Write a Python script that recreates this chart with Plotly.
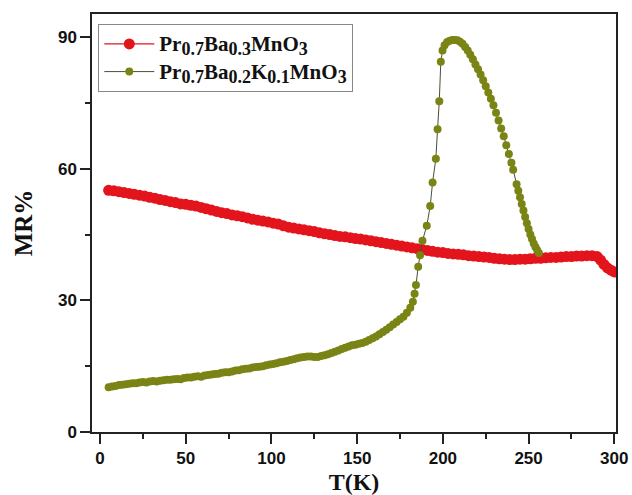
import plotly.graph_objects as go

# Pr0.7Ba0.3MnO3
t_red = [5, 8, 11, 14, 17, 20, 23, 26, 29, 32, 35, 38, 41, 44, 47, 50, 53, 56, 59, 62,
         65, 68, 71, 74, 77, 80, 83, 86, 89, 92, 95, 98, 101, 104, 107, 110, 113, 116, 119, 122,
         125, 128, 131, 134, 137, 140, 143, 146, 149, 152, 155, 158, 161, 164, 167, 170, 173, 176, 179, 182,
         185, 188, 191, 194, 197, 200, 203, 206, 209, 212, 215, 218, 221, 224, 227, 230, 233, 236, 239, 242,
         245, 248, 251, 254, 257, 260, 263, 266, 269, 272, 275, 278, 281, 284, 287, 290, 292, 294, 296, 298, 300]
mr_red = [55.1, 55.0, 54.8, 54.6, 54.4, 54.2, 54.0, 53.8, 53.5, 53.3, 53.0, 52.8, 52.5, 52.3, 52.0, 51.9, 51.7, 51.5, 51.2, 50.9,
          50.6, 50.3, 50.0, 49.8, 49.5, 49.3, 49.1, 48.8, 48.5, 48.3, 48.1, 47.9, 47.6, 47.4, 47.0, 46.7, 46.5, 46.3, 46.1, 45.9,
          45.7, 45.4, 45.2, 45.0, 44.8, 44.6, 44.5, 44.3, 44.1, 44.0, 43.8, 43.6, 43.4, 43.2, 43.0, 42.8, 42.6, 42.4, 42.2, 42.0,
          41.8, 41.6, 41.4, 41.2, 41.0, 40.9, 40.7, 40.6, 40.5, 40.4, 40.2, 40.1, 40.0, 39.9, 39.8, 39.6, 39.5, 39.4, 39.3, 39.3,
          39.4, 39.4, 39.5, 39.6, 39.6, 39.7, 39.8, 39.8, 39.9, 40.0, 40.0, 40.1, 40.1, 40.2, 40.2, 40.0, 39.2, 38.2, 37.4, 36.9, 36.5]

# Pr0.7Ba0.2K0.1MnO3
t_grn = [5, 7, 9, 11, 13, 15, 17, 19, 21, 23, 25, 27, 29, 31, 33, 35, 37, 39, 41, 43,
         45, 47, 49, 51, 53, 55, 57, 59, 61, 63, 65, 67, 69, 71, 73, 75, 77, 79, 81, 83,
         85, 87, 89, 91, 93, 95, 97, 99, 101, 103, 105, 107, 109, 111, 113, 115, 117, 119, 121, 123,
         125, 127, 129, 131, 133, 135, 137, 139, 141, 143, 145, 147, 149, 151, 153, 155, 157, 159, 161, 163,
         165, 167, 169, 171, 173, 175, 177, 179, 181, 182.5, 183.5, 184.3, 185.6, 186.7, 188.1, 190.6, 192.6, 194.0, 195.9, 196.9,
         197.9, 198.8, 199.8, 201, 202.5, 204, 205.5, 207, 208.5, 210, 211.5, 213, 214.5, 216, 217.5, 219, 220.5, 222, 223.5, 225,
         226.5, 228, 229.5, 231, 232.5, 234, 235.5, 237, 238.5, 240, 241, 243, 244, 245, 246, 247, 248, 249, 250, 251,
         252, 253, 254, 255, 256]
mr_grn = [10.2, 10.4, 10.5, 10.7, 10.8, 10.9, 11.0, 11.1, 11.1, 11.3, 11.4, 11.3, 11.5, 11.6, 11.5, 11.7, 11.8, 11.9, 11.9, 12.0,
          12.1, 12.0, 12.3, 12.4, 12.4, 12.6, 12.7, 12.6, 12.9, 13.0, 13.1, 13.2, 13.3, 13.5, 13.6, 13.6, 13.8, 14.0, 14.1, 14.3,
          14.4, 14.5, 14.7, 14.8, 14.9, 15.0, 15.2, 15.4, 15.5, 15.7, 15.9, 16.0, 16.2, 16.4, 16.6, 16.8, 17.0, 17.1, 17.2, 17.2,
          17.1, 17.1, 17.3, 17.5, 17.7, 18.0, 18.3, 18.6, 18.9, 19.2, 19.5, 19.8, 19.9, 20.1, 20.3, 20.6, 21.0, 21.4, 21.8, 22.3,
          22.8, 23.3, 23.9, 24.5, 25.1, 25.7, 26.3, 27.2, 28.3, 29.7, 31.5, 33.5, 37.7, 40.3, 43.6, 47.0, 51.5, 56.9, 62.3, 69.0,
          75.4, 84.4, 87.0, 88.2, 88.9, 89.2, 89.4, 89.4, 89.3, 89.0, 88.5, 87.8, 87.0, 86.0, 85.0, 83.8, 82.7, 81.5, 80.2, 78.8,
          77.4, 76.0, 74.5, 72.8, 71.0, 69.2, 67.4, 65.4, 63.4, 61.4, 59.8, 56.5, 55.0, 53.5, 52.0, 50.5, 49.0, 47.6, 46.3, 45.0,
          44.0, 43.0, 42.2, 41.5, 40.8]

x_ticks = [0, 50, 100, 150, 200, 250, 300]
y_ticks = [0, 30, 60, 90]

RED = "#E3141B"
OLIVE = "#7A8414"


def chem(parts):
    # parts: list of (text, is_subscript)
    out = ""
    for txt, sub in parts:
        if sub:
            out += '<span style="font-size:18px;baseline-shift:-4px">' + txt + '</span>'
        else:
            out += '<span style="font-size:21px">' + txt + '</span>'
    return out


name_red = chem([("Pr", False), ("0.7", True), ("Ba", False), ("0.3", True), ("MnO", False), ("3", True)])
name_grn = chem([("Pr", False), ("0.7", True), ("Ba", False), ("0.2", True), ("K", False), ("0.1", True),
                 ("MnO", False), ("3", True)])

fig = go.Figure()
fig.add_trace(go.Scatter(
    x=t_red, y=mr_red, mode="lines+markers",
    name=name_red,
    line=dict(color=RED, width=1.2),
    marker=dict(color=RED, size=11, line=dict(width=0)),
))
fig.add_trace(go.Scatter(
    x=t_grn, y=mr_grn, mode="lines+markers",
    name=name_grn,
    line=dict(color="#4A4F3A", width=1),
    marker=dict(color=OLIVE, size=8, line=dict(width=0)),
))

axis_common = dict(
    showline=True, linecolor="#222222", linewidth=1.5, mirror=True,
    ticks="outside", ticklen=10, tickwidth=1.5, tickcolor="#222222",
    showgrid=False, zeroline=False, automargin=False,
    tickfont=dict(family="Liberation Sans, Arial", size=17, color="#111111", weight="bold"),
)

fig.update_xaxes(
    range=[-4.7, 301], tickvals=x_ticks, ticktext=[str(v) for v in x_ticks],
    minor=dict(ticks="outside", ticklen=5, tickwidth=1.5, tickcolor="#222222", dtick=25, tick0=0),
    title=dict(text="T(K)", font=dict(family="Liberation Serif, Times New Roman", size=24, color="#111111", weight="bold"), standoff=6),
    **axis_common,
)
fig.update_yaxes(
    range=[0, 95.3], tickvals=y_ticks, ticktext=[str(v) for v in y_ticks],
    minor=dict(ticks="outside", ticklen=5, tickwidth=1.5, tickcolor="#222222", dtick=15, tick0=0),
    title=dict(text="MR%", font=dict(family="Liberation Serif, Times New Roman", size=25, color="#111111", weight="bold"), standoff=18),
    **axis_common,
)

fig.update_layout(
    width=632, height=495,
    margin=dict(l=92, r=16, t=14, b=63, autoexpand=False),
    paper_bgcolor="white", plot_bgcolor="white",
    showlegend=True,
    legend=dict(
        x=0.012, y=0.976, xanchor="left", yanchor="top",
        bordercolor="#888888", borderwidth=1, bgcolor="white",
        font=dict(family="Liberation Serif, Times New Roman", size=19, color="#111111", weight="bold"),
        tracegroupgap=0, itemwidth=50,
    ),
)

fig.write_html("out.html")
